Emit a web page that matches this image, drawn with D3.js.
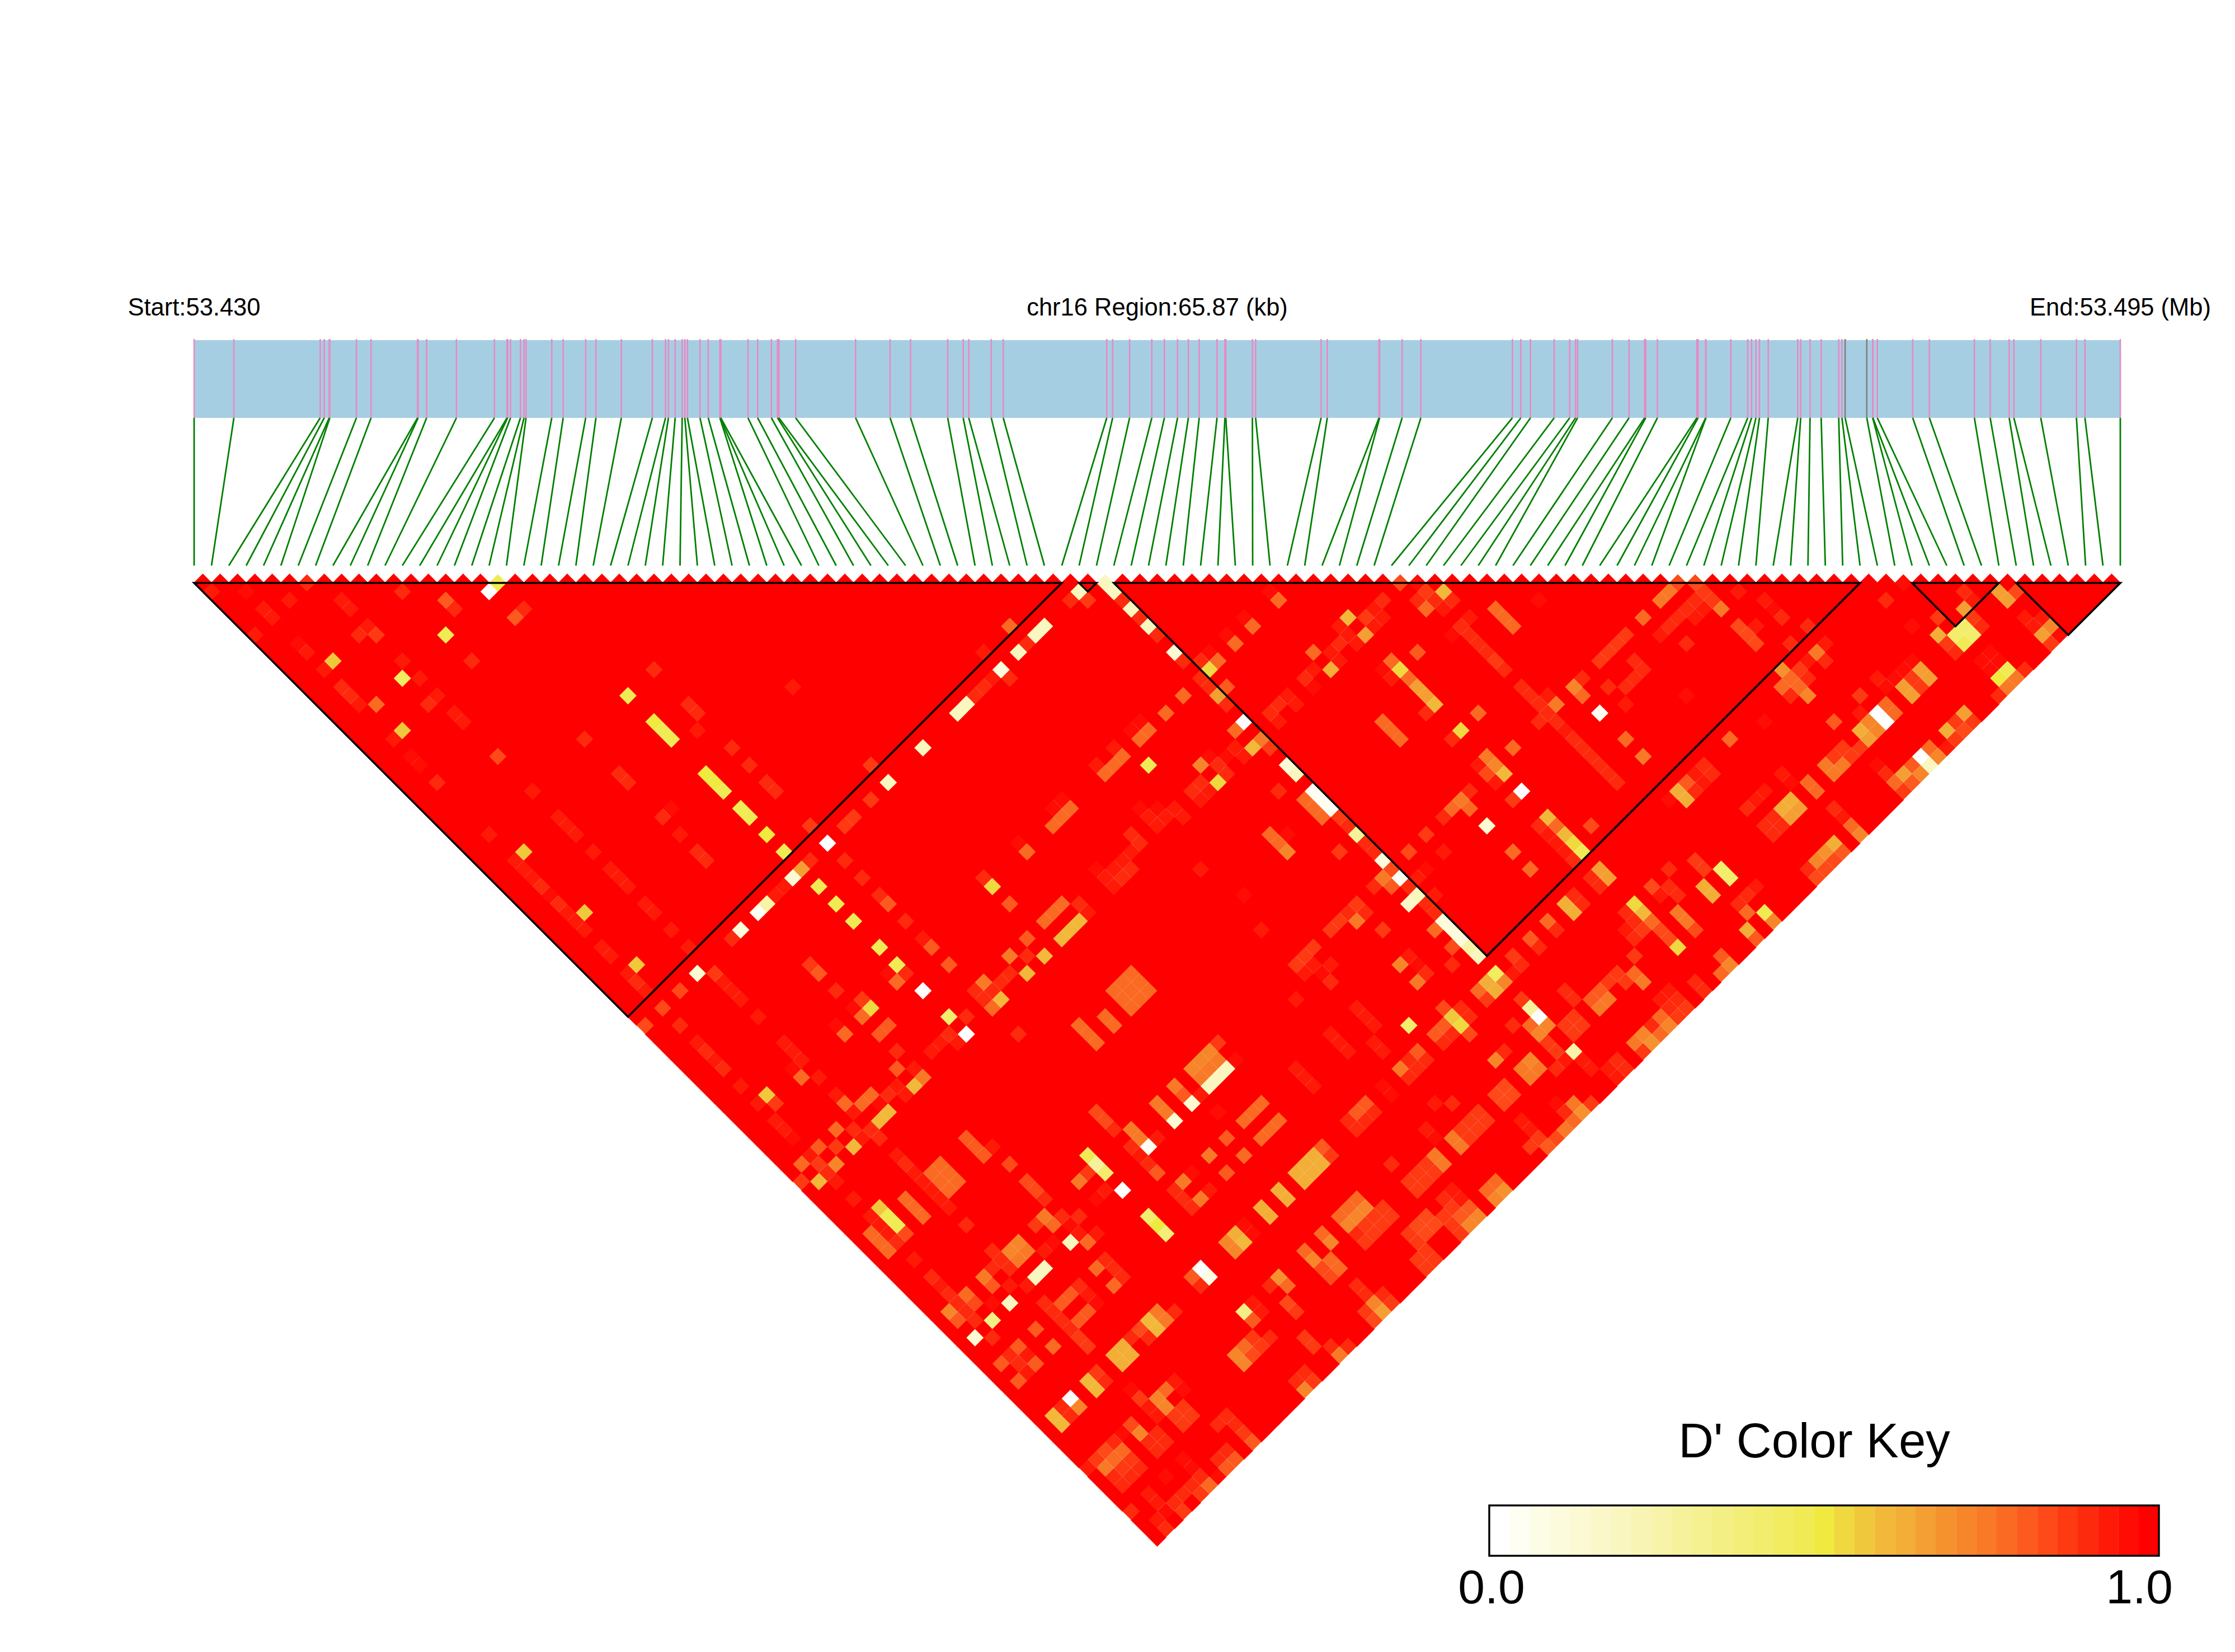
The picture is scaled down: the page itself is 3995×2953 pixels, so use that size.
<!DOCTYPE html>
<html>
<head>
<meta charset="utf-8">
<script src="https://cdn.jsdelivr.net/npm/d3@7"></script>
<style>
  body { margin: 0; background: #fff; }
  text { font-family: "Liberation Sans", Arial, sans-serif; fill: #000; }
</style>
</head>
<body>
<svg id="chart" width="3995" height="2953"></svg>
<script>
// SNP positions, kb from the region start
const snpKb = [0,1.36,4.31,4.45,4.62,4.64,5.55,6.05,7.64,7.66,7.95,8.97,10.27,10.70,10.72,10.82,11.16,11.28,11.35,12.23,
  12.62,13.39,13.74,14.61,15.67,16.12,16.22,16.45,16.69,16.78,16.87,17.30,17.58,17.98,17.99,18.01,18.94,19.27,19.74,19.95,
  20.00,20.57,22.62,23.80,24.50,25.77,26.30,26.49,27.26,27.67,31.21,31.41,31.99,32.75,33.18,33.63,34.00,34.37,34.98,35.25,
  35.28,36.19,36.30,38.54,38.75,40.52,40.54,41.31,41.95,45.08,45.37,45.70,46.51,47.04,47.24,47.31,48.50,49.07,49.60,49.64,
  50.04,51.39,51.43,51.69,51.70,52.55,53.13,53.26,53.41,53.53,53.83,54.84,54.94,55.26,55.64,56.24,56.35,56.46,57.20,57.40,
  57.41,57.56,58.77,59.34,60.88,61.42,62.07,62.23,63.15,64.37,64.66,65.87];
const greySnps = [97, 98];

// LD blocks, first and last SNP index
const blockStart = [0, 51, 53, 99, 105];
const blockEnd = [50, 52, 96, 104, 111];

const keyColours = ["#ffffff","#fefef2","#fdfce4","#fcfbdc","#fbfad2","#faf8c8","#f9f6c0","#f8f5b4","#f7f3a8","#f6f29c","#f5f090",
  "#f4ef84","#f3ee78","#f2ed6c","#f1ec60","#f0eb54","#f0ea40","#f0d840","#f0c83c","#f2b83a","#f3ae38","#f49f33","#f6922e","#f7862a",
  "#f97a26","#fb6a22","#fc5a1e","#fd4a18","#fe3a12","#fe2a0d","#ff1a08","#ff0c04","#ff0000"];
const keyLabels = ["0.0", "1.0"];

// pairs that are not D'=1: [snp a, snp b, D']
const ldCells = [
[6,7,.88],[17,18,.47],[69,70,.83],[70,71,.96],[85,86,.83],[86,87,.83],[98,99,.94],[52,53,.20],
[50,52,.20],[49,52,.88],[50,53,.85],[52,54,.20],[52,55,.88],[52,56,.20],[52,57,.88],[52,58,.20],[52,59,.88],[44,50,.78],[46,52,.20],[45,52,.20],
[0,2,.92],[2,4,.96],[4,7,.92],[7,10,.92],[7,11,.92],[2,6,.91],[2,7,.91],[11,13,.88],[13,16,.80],[13,17,.89],[16,18,0],
[17,21,.89],[16,21,.80],[0,7,.91],[7,13,.92],[6,13,.89],[7,14,.86],[11,18,.47],[2,10,.95],[2,11,.92],[3,13,.56],[2,13,.92],
[7,17,.91],[6,18,.45],[7,19,.92],[11,21,.89],[2,15,.89],[2,16,.89],[2,17,.91],[3,18,.77],[7,21,.91],[6,21,.88],[7,23,.91],[7,24,.91],
[3,21,.56],[2,21,.92],[21,32,.89],[18,32,.47],[18,35,.50],[18,36,.47],[18,37,.47],[13,32,.89],[7,28,.83],[2,23,.95],[2,24,.94],
[2,26,.89],[13,36,.89],[13,37,.89],[7,32,.92],[7,35,.92],[7,36,.92],[7,37,.92],[2,32,.92],[14,41,.94],[13,41,.88],[13,43,.91],
[3,35,.56],[7,39,.91],[2,35,.91],[2,36,.92],[2,37,.92],[2,38,.88],[2,39,.95],[2,40,.88],[2,41,.91],[2,42,.92],[2,43,.92],[3,42,.56],
[7,41,.92],[7,42,.92],[7,43,.92],[7,45,.91],[7,46,.91],[7,48,.91],[2,45,.91],[2,46,.91],[3,48,.56],[2,48,.92],[2,49,.89],[2,50,.91],
[4,52,.83],[2,52,.83],[0,52,.83],[21,36,.88],[21,37,.89],[20,38,.91],[28,41,.91],[21,41,.88],[21,43,.88],[21,45,.88],[21,46,.88],
[18,41,.50],[18,42,.49],[18,43,.48],[18,45,.47],[18,46,.47],[18,48,.50],[18,50,.47],[13,45,.89],[13,46,.89],[7,50,.91],[21,50,.86],
[28,50,.86],[26,52,.86],[28,52,.20],[32,52,.20],[37,52,.20],[36,52,.20],[40,52,.93],[39,52,.89],[38,52,.88],[41,52,.12],[41,53,.88],
[43,52,.20],[44,52,.88],[41,50,.92],[24,52,.86],[23,52,.86],[21,52,.03],[21,54,.88],[21,56,.88],[21,58,.88],[21,59,.80],[21,61,.88],
[21,63,.93],[21,64,.80],[21,66,.80],[18,66,.02],[18,54,.47],[18,56,.47],[18,58,.47],[18,61,.47],[18,63,.48],[18,64,.90],[17,63,.94],
[17,64,.78],[17,52,.15],[18,52,.65],[19,52,.88],[14,52,.25],[13,52,.05],[15,52,.92],[16,52,.92],[11,52,.12],[10,52,.88],[6,52,.15],
[7,53,.86],[7,54,.91],[7,55,.91],[7,56,.92],[2,54,.88],[2,56,.92],[2,57,.88],[2,58,.91],[2,59,.88],[7,58,.91],[13,59,.80],[13,58,.86],
[13,61,.88],[14,63,.86],[13,63,.94],[14,64,.53],[13,64,.78],[11,63,.94],[11,64,.77],[7,61,.91],[7,62,.91],[7,63,.91],[6,63,.94],
[6,64,.78],[7,65,.91],[2,61,.91],[3,63,.56],[2,63,.91],[3,64,.85],[2,65,.93],[2,66,.91],[2,67,.94],[7,67,.91],[7,68,.78],[8,69,.78],
[9,69,.78],[7,69,.91],[5,69,.78],[6,70,.89],[6,71,.92],[5,71,.59],[4,70,.85],[3,69,.80],[2,69,.91],[2,70,.86],[3,71,.71],[1,69,.78],
[2,71,.88],[0,70,.85],[1,71,.59],[2,72,.92],[2,74,.91],[14,66,.80],[13,66,.80],[18,69,.40],[18,71,.03],[19,70,.88],[17,70,.88],
[16,70,.92],[17,71,.91],[15,70,.92],[21,71,.78],[21,74,.88],[27,78,.78],[27,79,.78],[25,77,.78],[25,78,.78],[25,79,.78],[29,79,.80],
[13,68,.88],[12,69,.80],[13,70,.91],[13,71,.73],[12,71,.59],[11,70,.91],[11,71,.91],[10,70,.88],[9,70,.94],[8,71,.59],[9,71,.59],
[7,71,.88],[7,72,.89],[7,74,.91],[7,75,.88],[7,76,.91],[7,77,.91],[7,78,.91],[7,79,.91],[7,80,.91],[8,77,.78],[8,78,.78],[8,79,.78],
[9,77,.78],[9,78,.78],[9,79,.78],[29,77,.78],[29,78,.78],[29,79,.78],[30,77,.78],[30,78,.78],[30,79,.78],[31,77,.78],[31,78,.78],[31,79,.78],
[7,82,.89],[12,77,.80],[12,78,.80],[12,79,.80],[13,79,.91],[13,81,.83],[13,83,.84],[13,84,.84],[13,85,.90],[12,86,.75],[12,87,.77],
[11,86,.87],[13,87,.90],[14,88,.89],[13,88,.94],[13,89,.91],[14,90,.91],[13,90,.78],[12,89,.20],[11,88,.94],[10,88,.92],
[3,76,.56],[3,77,.47],[3,78,.47],[3,79,.84],[2,76,.92],[2,77,.92],[2,78,.92],[2,79,.89],[1,77,.78],[1,78,.78],[1,79,.78],[5,77,.78],
[5,78,.78],[5,79,.78],[2,81,.92],[2,83,.90],[2,84,.92],[2,85,.90],[2,86,.90],[2,87,.88],[2,88,.90],[3,86,.78],[3,87,.84],[1,86,.72],
[1,87,.80],[4,88,.95],[5,89,.20],[3,89,.35],[1,89,.15],[2,90,.89],[6,88,.92],[5,86,.75],[6,86,.88],[5,87,.80],[9,86,.72],[9,87,.75],
[8,86,.72],[8,87,.75],[7,85,.90],[7,86,.89],[7,87,.90],[9,89,.20],[8,89,.20],[7,89,.91],[13,92,.89],[13,93,.89],[13,94,.89],[12,92,.78],
[12,94,.78],[7,91,.90],[7,92,.90],[7,93,.90],[7,94,.90],[7,95,.87],[7,96,.87],[9,92,.80],[8,92,.80],[10,92,.90],[10,93,.91],[10,94,.95],
[9,94,.80],[8,94,.80],[5,92,.80],[5,94,.78],[9,98,.62],[9,99,.62],[8,98,.62],[8,99,.62],[10,98,.90],[11,98,.82],[12,98,.59],[12,99,.58],
[13,98,.73],[13,99,.73],[11,99,.88],[14,99,.89],[3,92,.80],[3,93,.92],[3,94,.80],[1,92,.80],[2,92,.90],[2,93,.90],[2,94,.92],[1,94,.80],
[6,98,.86],[5,98,.60],[5,99,.60],[6,99,.88],[3,98,.02],[3,99,.72],[2,98,.88],[2,99,.90],[1,98,.60],[1,99,.60],
[7,101,.94],[7,102,.86],[7,103,.92],[7,104,.92],[10,103,.92],[9,103,.78],[8,103,.72],[8,104,.72],[10,104,.94],[8,105,.86],[9,105,.86],
[9,106,.86],[8,106,.86],[5,103,.84],[5,104,.72],[4,103,.94],[6,105,.88],[6,106,.88],[5,105,.88],[5,106,.88],[3,103,.90],[3,104,.78],
[2,104,.78],[2,103,.82],[1,103,.85],[0,103,.92],[1,104,.75],[3,105,.86],[3,106,.88],[2,105,.86],[2,106,.88],[1,105,.88],[1,106,.88],
[4,108,.96],[2,108,.92],[2,109,.92],[3,110,.90],[3,111,.86],[2,110,.95],[1,110,.92],[1,111,.88],[0,108,.90],[6,110,.88],[6,111,.78],
[5,110,.88],[5,111,.85],[4,110,.90],[6,108,.94],[6,109,.94],[8,110,.88],[9,110,.88],[9,111,.80],[8,111,.80],[7,111,.94],[10,108,.90],
[11,108,.90],[11,109,.90],[11,110,.86],[11,111,.80],[15,105,.72],[15,106,.72],[16,106,.82],[16,105,.76],[17,105,.86],[17,106,.86],[18,106,.88],
[31,86,.72],[30,86,.72],[31,87,.75],[30,87,.75],[29,86,.72],[29,87,.75],[32,86,.86],[32,88,.95],[31,88,.20],[30,88,.20],[29,88,.20],
[28,88,.92],[28,90,.94],[27,88,.15],[25,88,.15],[27,86,.74],[27,87,.80],[25,86,.74],[25,87,.75],[21,83,.84],[21,84,.84],[21,85,.90],
[22,86,.75],[22,87,.75],[21,87,.90],[23,88,.92],[22,88,.05],[21,88,.92],[21,89,.90],[21,90,.80],[18,85,.48],[18,86,.30],[18,87,.40],
[16,86,.75],[17,86,.87],[18,89,.03],[17,88,.93],[16,88,.94],[18,92,.40],[18,93,.50],[18,94,.38],[22,98,.62],[22,99,.59],[21,98,.72],
[21,99,.72],[23,98,.95],[23,99,.95],[25,98,.63],[25,99,.63],[27,98,.63],[27,99,.63],[18,98,.02],[18,99,.08],[17,98,.80],[17,99,.90],
[22,92,.75],[21,92,.90],[21,93,.90],[21,94,.90],[22,94,.75],[23,94,.92],[23,92,.94],[25,92,.75],[27,92,.80],[27,94,.78],[25,94,.80],
[31,92,.78],[30,92,.78],[29,92,.78],[31,94,.78],[30,94,.78],[29,94,.78],[18,103,.35],[19,103,.92],[18,104,.80],[19,104,.93],
[21,103,.88],[22,103,.68],[22,104,.78],[61,63,.94],[61,64,.78],[58,63,.94],[58,64,.78],[56,63,.94],[56,64,.78],[54,63,.94],[54,64,.78],
[53,63,.90],[53,64,.52],[52,62,.89],[52,61,.15],[52,64,.88],[52,65,.88],[52,66,.65],[53,66,.80],[52,67,.88],[50,64,.78],[52,69,.03],
[51,69,.78],[52,71,.75],[51,71,.60],[52,72,.85],[50,71,.92],[50,70,.92],[49,70,.94],[48,70,.88],[48,69,.94],[47,69,.72],[48,71,.88],
[47,71,.53],[46,70,.88],[45,70,.88],[45,71,.91],[46,71,.91],[52,74,.15],[52,75,.20],[50,75,.88],[52,77,.05],[52,78,.05],[52,79,.05],
[51,77,.78],[51,78,.78],[51,79,.78],[52,80,.85],[52,81,.90],[52,82,.30],[52,83,.89],[52,84,.89],[52,85,.10],[52,86,.82],[51,86,.75],
[51,87,.80],[50,86,.88],[52,87,.05],[52,88,.90],[52,89,.20],[51,89,.17],[52,90,.88],[52,91,.90],[53,90,.93],[53,88,.93],[54,88,.95],
[51,92,.78],[52,92,.10],[52,93,.10],[52,94,.12],[52,95,.25],[52,96,.20],[51,94,.84],[50,95,.90],
[70,72,.85],[71,73,.60],[69,72,.90],[70,73,.90],[71,74,.90],[69,73,.77],[70,74,.92],[73,77,.78],[73,78,.78],[73,79,.78],[76,79,.95],
[71,76,.92],[70,76,.89],[70,77,.89],[70,78,.89],[70,79,.89],[70,80,.85],[70,81,.89],[69,76,.95],[66,75,.80],[64,74,.78],[64,75,.52],
[63,75,.92],[63,74,.95],[64,76,.78],[64,77,.64],[64,78,.64],[64,79,.60],[63,79,.90],[60,77,.78],[60,78,.78],[60,79,.78],[66,82,.78],
[64,82,.53],[63,82,.88],[64,69,.59],[64,71,.65],[60,69,.78],[60,71,.62],[65,70,.86],[65,71,.92],[66,71,.92],[67,70,.90],[66,70,.92],
[63,70,.91],[63,71,.91],[63,69,.93],[62,70,.88],[61,70,.91],[61,71,.92],[59,70,.92],[58,70,.90],[56,70,.91],[55,70,.88],[54,70,.90],
[56,71,.92],[54,71,.91],[58,71,.94],[43,70,.91],[43,71,.91],[47,77,.78],[47,78,.78],[47,79,.72],[48,78,.95],[41,75,.93],[42,79,.96],
[48,86,.87],[47,87,.74],[47,86,.88],[46,86,.86],[45,86,.86],[48,87,.90],[48,89,.85],[41,82,.93],
[73,89,.05],[73,86,.72],[74,86,.88],[73,87,.76],[71,86,.75],[71,85,.92],[70,83,.89],[70,84,.90],[70,85,.88],[70,86,.88],[70,87,.88],
[70,88,.91],[70,89,.88],[70,90,.89],[70,91,.88],[70,92,.88],[70,93,.88],[70,94,.88],[69,86,.89],[75,90,.93],[75,88,.90],[79,86,.86],
[78,86,.86],[77,86,.86],[76,86,.86],[81,86,.78],[82,90,.88],[81,88,.93],[82,88,.90],[83,88,.90],[84,88,.90],[85,88,.88],[86,88,.85],
[84,86,.75],[83,86,.75],[86,89,.85],[86,90,.75],[85,89,.92],[84,89,.93],[78,89,.90],[77,89,.88],[76,89,.90],[78,88,.90],[73,92,.76],
[73,94,.75],[66,86,.76],[64,85,.74],[64,86,.71],[64,87,.58],[63,85,.91],[63,86,.84],[63,87,.91],[64,89,.03],[63,89,.87],[60,89,.15],
[61,86,.88],[60,86,.75],[59,86,.78],[60,87,.78],[58,86,.88],[64,92,.60],[64,93,.76],[64,94,.60],[64,95,.52],[64,96,.47],[63,92,.90],
[63,93,.93],[63,94,.91],[63,95,.91],[63,96,.90],[66,95,.83],[56,86,.85],[54,86,.83],[56,88,.93],[60,92,.77],[60,94,.78],
[79,98,.78],[73,98,.62],[73,99,.62],[74,98,.80],[74,99,.90],[72,98,.95],[76,98,.90],[75,98,.92],[64,98,.65],[64,99,.65],[63,98,.88],
[63,99,.88],[60,98,.62],[60,99,.62],[61,98,.88],[61,99,.90],[58,98,.78],[58,99,.90],[56,98,.80],[56,99,.88],[71,105,.40],[71,106,.42],
[69,105,.62],[69,106,.62],[64,102,.53],[64,103,.58],[64,104,.76],[63,102,.89],[50,82,.86],[43,86,.86],[42,86,.86],[41,86,.86],[42,89,.88],
[42,87,.92],[41,87,.92],[43,88,.92],[42,88,.94],[47,92,.72],[48,92,.92],[48,93,.94],[48,94,.90],[47,94,.73],[52,98,.45],[51,98,.62],
[51,99,.62],[52,99,.72],[50,98,.78],[50,99,.86],[54,98,.85],[54,99,.88],[53,99,.91],[52,101,.85],[52,102,.30],[52,103,.03],[52,104,.72],
[51,104,.70],[51,103,.78],[50,102,.90],[44,96,.40],[47,98,.55],[47,99,.53],[47,97,.84],[48,98,.88],[48,99,.88],[47,100,.84],[46,98,.80],
[46,99,.88],[45,98,.80],[45,99,.88],[42,92,.93],[42,93,.93],[42,94,.91],[39,92,.93],[39,93,.93],[39,94,.93],[41,95,.92],[41,96,.92],
[39,88,.92],[35,92,.92],[35,93,.92],[35,94,.92],[43,98,.80],[41,98,.74],[42,98,.88],[43,99,.88],[42,99,.88],[41,99,.88],[39,98,.94],
[39,99,.94],[47,103,.72],[48,103,.90],[49,105,.72],[49,106,.74],[48,105,.74],[48,106,.74],[51,105,.87],[51,106,.87],[52,107,.25],
[51,107,.92],[52,108,.91],[52,109,.91],[50,107,.88],[46,105,.83],[46,106,.83],[45,105,.83],[45,106,.83],[41,102,.93],[42,103,.90],
[37,98,.80],[36,98,.80],[37,99,.90],[36,99,.90],[35,98,.90],[35,99,.90],[43,105,.85],[43,106,.85],[42,105,.85],[42,106,.85],[41,105,.85],
[41,106,.85],[40,105,.75],[40,106,.75],[39,103,.92],[39,104,.94],[45,108,.93],[45,110,.85],[45,111,.80],[45,109,.93],[44,110,.85],
[48,109,.94],[49,111,.68],[49,110,.75],[47,111,.74],[48,111,.76],[48,110,.88],[50,111,.86],
[31,103,.76],[30,103,.76],[29,103,.76],[31,104,.72],[30,104,.72],[29,104,.72],[32,105,.86],[32,106,.86],[31,105,.86],[31,106,.86],
[30,105,.86],[30,106,.86],[29,105,.88],[29,106,.86],[34,108,.84],[33,108,.84],[34,109,.84],[33,109,.84],[32,108,.87],[32,109,.87],
[37,108,.92],[37,109,.92],[36,108,.90],[36,109,.85],[37,110,.80],[37,111,.72],[36,110,.80],[36,111,.72],[35,110,.85],[35,109,.85],[35,111,.85],
[27,103,.76],[27,104,.70],[25,103,.78],[25,104,.72],[26,105,.78],[26,106,.78],[25,105,.82],[25,106,.82],[26,110,.72],[26,111,.65],
[25,110,.86],[25,111,.84],[26,108,.90],[26,109,.90],[27,110,.88],[27,111,.85],[20,108,.86],[20,109,.85],[21,110,.88],[21,111,.75],[22,111,.90],
[18,110,.88],[17,110,.88],[17,111,.72],[18,111,.86],[21,105,.84],[21,106,.86],[29,98,.62],[30,98,.62],[31,98,.62],[29,99,.62],[30,99,.62],
[31,99,.62],[32,98,.80],[32,99,.85],[35,103,.90],[38,105,.74],[38,106,.74],[37,105,.86],[37,106,.86],[36,105,.86],[36,106,.86],[35,105,.86],[35,106,.86],
[60,106,.78],[60,107,.74],[57,105,.80],[57,106,.74],[56,105,.80],[56,106,.74],[59,105,.85],[59,106,.85],[58,105,.85],[61,105,.86],
[55,103,.90],[55,104,.90],[54,105,.86],[54,106,.86],[53,106,.86],[53,105,.86],[63,103,.90],[62,104,.90],[63,104,.85],[62,103,.92],
[66,105,.75],[66,106,.75],[66,107,.83],[64,107,.52],[64,105,.84],[64,106,.84],[68,102,.90],[66,102,.82],[67,103,.90],[66,103,.92],[67,104,.90],
[70,103,.85],[70,104,.85],[71,108,.90],[72,108,.93],[71,110,.47],[69,110,.62],[69,111,.80],[71,111,.72],[70,109,.76],[70,108,.88],
[88,90,.92],[89,92,.92],[89,93,.94],[89,94,.90],[86,92,.82],[86,93,.82],[86,94,.82],[87,93,.93],[90,96,.90],[88,96,.88],[90,98,.93],
[89,98,.74],[89,99,.89],[88,98,.93],[86,97,.68],[86,98,.76],[87,98,.85],[85,98,.78],[85,99,.88],[86,99,.76],[86,100,.70],[87,99,.90],
[79,93,.96],[82,99,.94],[86,103,.80],[76,99,.88],[75,99,.92],[80,103,.92],[80,104,.94],[81,105,.76],[81,106,.78],[79,105,.62],[79,106,.64],
[78,105,.63],[78,106,.65],[77,105,.88],[77,106,.88],[76,105,.88],[76,106,.88],[76,103,.88],[77,103,.92],[78,103,.92],[83,105,.74],[84,105,.85],
[85,105,.85],[84,106,.74],[83,106,.74],[85,106,.85],[86,106,.85],[87,105,.62],[87,106,.64],[89,105,.03],[89,106,.03],[90,105,.76],[90,106,.76],
[88,105,.72],[88,106,.70],[89,103,.87],[88,104,.93],[91,103,.92],[94,104,.95],[93,104,.94],[92,104,.94],[91,104,.94],[94,105,.64],[94,106,.66],
[93,105,.85],[93,106,.85],[92,105,.64],[92,106,.66],[96,102,.96],[96,99,.89],[101,103,.88],[101,104,.92],[100,104,.66],[98,103,.86],[100,105,.87],
[100,106,.90],[103,105,.64],[103,106,.66],[104,106,.84],[99,105,.42],[98,105,.42],[99,106,.42],[98,106,.47],[97,104,.62],[97,105,.85],[97,106,.90],
[98,108,.94],[99,108,.94],[98,109,.94],[99,109,.94],[99,110,.47],[98,110,.50],[99,111,.74],[98,111,.74],[100,111,.88],[97,111,.88],
[103,108,.92],[103,109,.92],[104,109,.92],[104,110,.72],[103,110,.64],[103,111,.85],[104,111,.94],[79,110,.62],[78,110,.68],[77,110,.70],
[79,111,.80],[78,111,.83],[77,111,.83],[76,110,.88],[76,111,.83],[81,110,.78],[81,111,.70],[81,109,.92],[81,108,.90],[86,108,.94],[86,109,.90],
[87,110,.66],[87,111,.80],[86,110,.76],[86,111,.85],[88,110,.80],[88,111,.72],[89,110,.03],[89,111,.20],[90,110,.78],[90,111,.72],[91,111,.92],
[92,110,.63],[94,110,.64],[93,110,.85],[93,111,.84],[92,111,.85],[94,111,.85],
[48,64,.78],[45,64,.78],[46,64,.78],[45,63,.94],[46,63,.94],[43,64,.78],[42,64,.78],[41,64,.78],[41,63,.92],[43,63,.92],[44,66,.47],
[37,64,.78],[36,64,.78],[35,64,.78],[36,63,.94],[37,63,.94],[32,63,.94],[32,64,.78],[28,63,.88],[28,64,.53],[28,66,.80],[31,69,.76],[30,69,.76],
[29,69,.76],[31,71,.60],[30,71,.60],[29,71,.60],[32,70,.88],[32,71,.91],[27,69,.80],[25,69,.75],[26,70,.88],[27,71,.59],[25,71,.60],[23,70,.88],
[24,70,.88],[22,70,.88],[22,69,.75],[22,71,.60],[21,70,.88],[21,69,.90],[41,68,.95],[42,69,.95],[41,69,.92],[42,70,.92],[41,70,.92],[39,69,.90],
[39,70,.90],[38,70,.92],[37,70,.92],[36,70,.92],[35,70,.92],[37,71,.90],[36,71,.90],[35,71,.92],[35,69,.95],
[66,111,.72],[65,111,.78],[66,110,.80],[63,111,.88],[63,110,.90],[59,111,.72],[59,110,.78],[58,111,.76],[58,110,.88],[57,111,.68],[56,111,.85],
[57,110,.72],[56,110,.75],[46,111,.82],[40,111,.68],[39,111,.72],[40,110,.76],[39,110,.78],[32,111,.85],[31,111,.85],[32,110,.86],[31,110,.86],
[60,110,.88],[61,110,.88],[61,111,.85],[60,111,.85],[60,109,.92],[61,109,.92],[54,110,.90],[54,111,.90],[53,110,.91],[53,111,.91]
];

const width = 3995, height = 2953;
const xLeft = 347, xRight = 3790;
const yTop = 1042;
const barTop = 608, barBottom = 747, linkBottom = 1011;
const nSnp = snpKb.length;

const svg = d3.select("#chart");

const xKb = d3.scaleLinear().domain([0, 65.87]).range([xLeft, xRight]);
const xSnp = d3.scaleLinear().domain([0, nSnp - 1]).range([xLeft, xRight]);
// distance below the top row, counted in half cells
const yHalf = d3.scaleLinear().domain([0, nSnp - 1]).range([yTop, yTop + (xRight - xLeft) / 2]);
const colour = d3.scaleQuantize().domain([0, 1]).range(keyColours);

// region bar with the SNP ticks
svg.append("rect")
  .attr("x", xLeft)
  .attr("y", barTop)
  .attr("width", xRight - xLeft)
  .attr("height", barBottom - barTop)
  .attr("fill", "#a6cee3");

svg.append("g").selectAll("line")
  .data(snpKb)
  .enter()
  .append("line")
  .attr("x1", d => xKb(d))
  .attr("x2", d => xKb(d))
  .attr("y1", barTop - 2)
  .attr("y2", barBottom)
  .attr("stroke", (d, i) => greySnps.includes(i) ? "#808080" : "#e78ac3")
  .attr("stroke-width", 2.6);

// links from genomic position to the evenly spaced matrix column
svg.append("g").selectAll("line")
  .data(snpKb)
  .enter()
  .append("line")
  .attr("x1", d => xKb(d))
  .attr("y1", barBottom)
  .attr("x2", (d, i) => xSnp(i))
  .attr("y2", linkBottom)
  .attr("stroke", "#008000")
  .attr("stroke-width", 2.8);

// matrix: every pair is D'=1 unless listed in ldCells
const lookup = new Map(ldCells.map(c => [c[0] + ":" + c[1], c[2]]));
const pairs = [];
d3.range(nSnp).forEach(a => {
  d3.range(a + 1, nSnp).forEach(b => {
    const key = a + ":" + b;
    pairs.push({ a: a, b: b, d: lookup.has(key) ? lookup.get(key) : 1 });
  });
});
// plain red first so the coloured cells sit cleanly on top of it
pairs.sort((p, q) => q.d - p.d);

svg.append("g").selectAll("polygon")
  .data(pairs)
  .enter()
  .append("polygon")
  .attr("points", p => {
    const mid = (p.a + p.b) / 2;
    const gap = p.b - p.a;
    return [
      [xSnp(mid - 0.5), yHalf(gap - 1)],
      [xSnp(mid), yHalf(gap - 2)],
      [xSnp(mid + 0.5), yHalf(gap - 1)],
      [xSnp(mid), yHalf(gap)]
    ].join(" ");
  })
  .attr("fill", p => colour(p.d))
  .attr("stroke", p => p.d === 1 ? colour(p.d) : "none")
  .attr("stroke-width", 1.6);

// block outlines
const blocks = blockStart.map((s, i) => ({ s: s, e: blockEnd[i] }));
svg.append("g").selectAll("path")
  .data(blocks)
  .enter()
  .append("path")
  .attr("d", b => d3.line()([
    [xSnp(b.s), yHalf(0)],
    [xSnp(b.e), yHalf(0)],
    [xSnp((b.s + b.e) / 2), yHalf(b.e - b.s)]
  ]) + "Z")
  .attr("fill", "none")
  .attr("stroke", "#000")
  .attr("stroke-width", 3.6)
  .attr("stroke-linejoin", "miter");

// header
const headerLabels = ["Start:53.430", "chr16 Region:65.87 (kb)", "End:53.495 (Mb)"];
const headerX = [xLeft, (xLeft + xRight) / 2, xRight];
svg.append("g").selectAll("text")
  .data(headerLabels)
  .enter()
  .append("text")
  .attr("x", (d, i) => headerX[i])
  .attr("y", 564)
  .attr("text-anchor", "middle")
  .attr("font-size", 43.5)
  .text(d => d);

// colour key
const keyLeft = 2662, keyRight = 3859, keyTop = 2691, keyBottom = 2781;
const keyBand = d3.scaleBand().domain(d3.range(keyColours.length)).range([keyLeft, keyRight]);
svg.append("g").selectAll("rect")
  .data(keyColours)
  .enter()
  .append("rect")
  .attr("x", (d, i) => keyBand(i))
  .attr("y", keyTop)
  .attr("width", keyBand.bandwidth() + 0.3)
  .attr("height", keyBottom - keyTop)
  .attr("fill", d => d);
svg.append("rect")
  .attr("x", keyLeft)
  .attr("y", keyTop)
  .attr("width", keyRight - keyLeft)
  .attr("height", keyBottom - keyTop)
  .attr("fill", "none")
  .attr("stroke", "#000")
  .attr("stroke-width", 3.4);
svg.append("text")
  .attr("x", 3243)
  .attr("y", 2605)
  .attr("text-anchor", "middle")
  .attr("font-size", 87)
  .text("D' Color Key");
const keyScale = d3.scaleLinear().domain([0, 1]).range([2666, 3824]);
svg.append("g").selectAll("text")
  .data(keyLabels)
  .enter()
  .append("text")
  .attr("x", d => keyScale(+d))
  .attr("y", 2866)
  .attr("text-anchor", "middle")
  .attr("font-size", 86)
  .text(d => d);
</script>
</body>
</html>
